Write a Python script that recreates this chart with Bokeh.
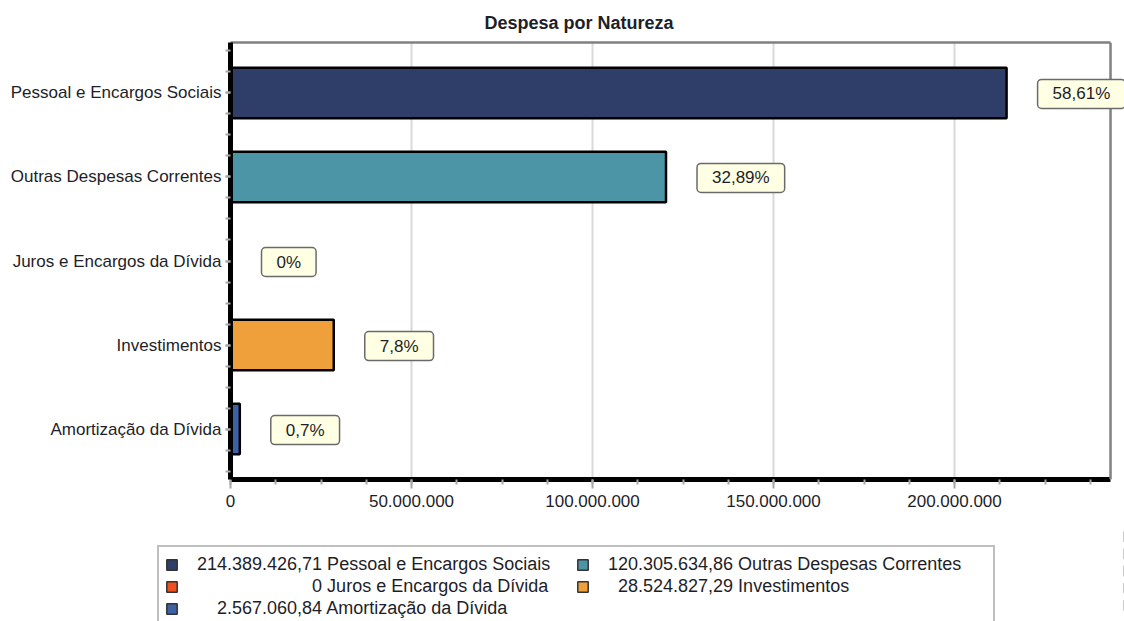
from bokeh.plotting import figure
from bokeh.models import (Range1d, FixedTicker, Label, Legend, LegendItem,
                          ColumnDataSource, LinearAxis, Span)
from bokeh.embed import file_html
from bokeh.resources import INLINE

# ---------------- data ----------------
categories = ["Pessoal e Encargos Sociais", "Outras Despesas Correntes",
              "Juros e Encargos da Dívida", "Investimentos", "Amortização da Dívida"]
values = [214389426.71, 120305634.86, 0.0, 28524827.29, 2567060.84]
percent_labels = ["58,61%", "32,89%", "0%", "7,8%", "0,7%"]
colors = ["#2E3E68", "#4B95A6", "#EE5020", "#F0A03A", "#3E60A4"]
x_ticks = [0, 50_000_000, 100_000_000, 150_000_000, 200_000_000]
x_minor_step = 12_500_000
x_axis_max = 243_100_000
title_text = "Despesa por Natureza"

FONT = "Liberation Sans"
TXT = "#1e1e28"

n = len(categories)
ypos = [n - 1 - i for i in range(n)]


def fmt_br(v, dec=2):
    if v == 0:
        return "0"
    s = f"{v:,.{dec}f}"
    return s.replace(",", "X").replace(".", ",").replace("X", ".")


num_str = [fmt_br(v) for v in values]

src = ColumnDataSource(dict(y=ypos, value=values, color=colors, cat=categories))

FRAME_W = 894
px_per_unit = 181 / 50_000_000
p = figure(frame_width=FRAME_W, frame_height=437,
           x_range=Range1d(0, FRAME_W / px_per_unit), y_range=Range1d(-0.6, n - 1 + 0.6),
           output_backend="svg", toolbar_location=None,
           min_border_left=230, min_border_right=0,
           min_border_top=41, min_border_bottom=40,
           background_fill_color="white", border_fill_color="white")
p.outline_line_color = None

r = p.hbar(y="y", right="value", left=0, height=0.6, fill_color="color",
           line_color="black", line_width=2.5, source=src)

xa = [a for a in p.below if isinstance(a, LinearAxis)][0]
ya = [a for a in p.left if isinstance(a, LinearAxis)][0]

# title
p.title.text = title_text
p.title.text_font = FONT
p.title.text_font_size = "18px"
p.title.text_font_style = "bold"
p.title.text_color = TXT
p.title.align = "left"
p.title.offset = 254
p.title.standoff = 20

# top border (as an unticked axis limited to the plotted range) and right border
top = LinearAxis(ticker=FixedTicker(ticks=[]), bounds=(0, x_axis_max),
                 axis_line_color="#808080", axis_line_width=2.5,
                 major_tick_out=0, major_label_standoff=0,
                 major_label_text_font_size="0px")
p.add_layout(top, "above")
p.add_layout(Span(location=x_axis_max, dimension="height",
                  line_color="#808080", line_width=2.5))

# x axis
minor = [k * x_minor_step for k in range(int(x_axis_max // x_minor_step) + 1)]
xa.ticker = FixedTicker(ticks=x_ticks, minor_ticks=minor)
xa.major_label_overrides = {t: fmt_br(t, 0) for t in x_ticks}
xa.bounds = (0, x_axis_max)
xa.axis_line_color = "black"
xa.axis_line_width = 5
xa.major_tick_in = 0
xa.major_tick_out = 9
xa.major_tick_line_color = "#a8a8a8"
xa.major_tick_line_width = 2
xa.minor_tick_in = 0
xa.minor_tick_out = 5
xa.minor_tick_line_color = "#a8a8a8"
xa.minor_tick_line_width = 2
xa.major_label_text_font = FONT
xa.major_label_text_font_size = "17px"
xa.major_label_text_color = TXT
xa.major_label_standoff = 6

# y axis
ya.ticker = FixedTicker(ticks=ypos, minor_ticks=[-0.5 + 0.25 * k for k in range(4 * n + 1)])
ya.major_label_overrides = {yp: c for yp, c in zip(ypos, categories)}
ya.axis_line_color = "black"
ya.axis_line_width = 5
ya.major_tick_in = 0
ya.major_tick_out = 5
ya.major_tick_line_color = "#a8a8a8"
ya.major_tick_line_width = 2
ya.minor_tick_in = 0
ya.minor_tick_out = 5
ya.minor_tick_line_color = "#a8a8a8"
ya.minor_tick_line_width = 2
ya.major_label_text_font = FONT
ya.major_label_text_font_size = "17px"
ya.major_label_text_color = TXT
ya.major_label_standoff = 4

# grid
p.xgrid.ticker = FixedTicker(ticks=x_ticks[1:])
p.xgrid.grid_line_color = "#d9d9d9"
p.xgrid.grid_line_width = 2
p.ygrid.visible = False

# percent callouts
for v, yp, t in zip(values, ypos, percent_labels):
    p.add_layout(Label(x=v, y=yp, x_offset=31, y_offset=-1, text=t,
                       text_align="left", text_baseline="middle",
                       text_font=FONT, text_font_size="17px", text_color=TXT,
                       background_fill_color="#FFFFE3",
                       border_line_color="#6a6a6a", border_line_width=1.5,
                       padding=dict(left=15, right=15, top=5, bottom=5),
                       border_radius=4))

# ---------------- legend strip (separate root below the chart) ----------------
lf = figure(width=1124, height=103, x_range=Range1d(-2, -1), y_range=Range1d(-1, n),
            output_backend="svg", toolbar_location=None,
            x_axis_type=None, y_axis_type=None, min_border=0,
            background_fill_color="white", border_fill_color="white")
lf.outline_line_color = None
# renderer that feeds the legend swatches (its bars fall outside this strip's range)
lr = lf.hbar(y="y", right="value", left=0, height=0.6, fill_color="color",
             line_color="#333333", line_width=1.5, source=src)

cols = [[i for i in range(n) if i % 2 == 0], [i for i in range(n) if i % 2 == 1]]
labels = [""] * n


def count(s):
    d = sum(ch.isdigit() for ch in s)
    return d, len(s) - d


for col in cols:
    md = max(count(num_str[i])[0] for i in col)
    mp = max(count(num_str[i])[1] for i in col)
    for i in col:
        d, pu = count(num_str[i])
        labels[i] = "\u2007" * (md - d) + "\u00a0" * (mp - pu) + num_str[i] + " " + categories[i]

items = [LegendItem(label=labels[i], renderers=[lr], index=i) for i in range(n)]
legend = Legend(items=items, location=(157, -5), orientation="horizontal", ncols=2,
                padding=6, spacing=0, margin=0,
                glyph_width=13, glyph_height=13, label_standoff=19,
                label_width=379, label_height=22,
                label_text_font=FONT, label_text_font_size="18px",
                label_text_color=TXT,
                border_line_color="#808080", border_line_width=2.5,
                background_fill_color="white", background_fill_alpha=1.0)
lf.add_layout(legend)

open("out.html", "w").write(file_html([p, lf], INLINE))
